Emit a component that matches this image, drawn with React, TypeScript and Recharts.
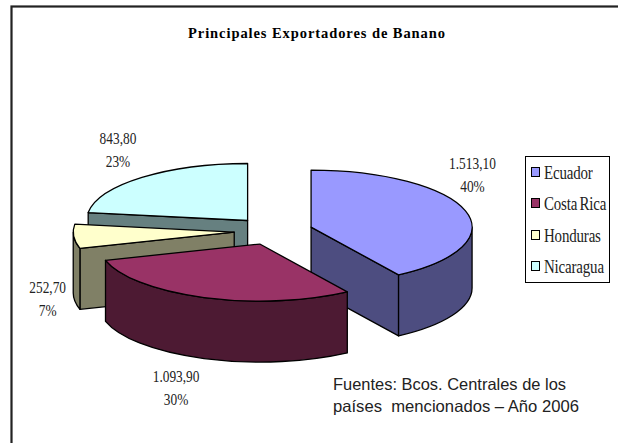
import React from "react";
import { PieChart, Pie, Legend } from "recharts";

const countries = ["Ecuador", "Costa Rica", "Honduras", "Nicaragua"];
const exports2006 = [1513.1, 1093.9, 252.7, 843.8];
const valueLabels = ["1.513,10", "1.093,90", "252,70", "843,80"];
const percentLabels = ["40%", "30%", "7%", "23%"];
const topColors = ["#9999FF", "#993366", "#FFFFCC", "#CCFFFF"];
const sideColors = ["#4D4D80", "#4D1A33", "#808066", "#668080"];
const paintOrder = ["Nicaragua", "Ecuador", "Honduras", "Costa Rica"];
const labelOffsets = [
  [7, -36],
  [-28, 90],
  [-26, 63],
  [-24, -27.5],
];
const sourceLines = ["Fuentes: Bcos. Centrales de los", "países  mencionados – Año 2006"];
const chartTitle = "Principales Exportadores de Banano";

const pieData = countries.map((name, i) => ({ name, value: exports2006[i] }));

const W = 618;
const H = 443;
const CX = 273.4;
const CY = 231;
const RX = 161;
const RY = 57;
const DEPTH = 61;
const EXPLODE = 0.244;
const EDGE = 1.3;

const rad = (a: number) => (a * Math.PI) / 180;
const pt = (cx: number, cy: number, a: number): [number, number] => [
  cx + RX * Math.cos(rad(a)),
  cy - RY * Math.sin(rad(a)),
];
const center = (midAngle: number): [number, number] => [
  CX + EXPLODE * RX * Math.cos(rad(midAngle)),
  CY - EXPLODE * RY * Math.sin(rad(midAngle)),
];

function Slice(props: any, only: string) {
  const { name, startAngle, endAngle } = props;
  if (name !== only) return <g />;
  const i = countries.indexOf(name);
  const mid = (startAngle + endAngle) / 2;
  const [cx, cy] = center(mid);
  const hi = Math.max(startAngle, endAngle);
  const lo = Math.min(startAngle, endAngle);
  const top = topColors[i];
  const side = sideColors[i];
  const s = pt(cx, cy, hi);
  const e = pt(cx, cy, lo);
  const large = hi - lo > 180 ? 1 : 0;
  const walls: React.ReactNode[] = [];
  const radial = (p: [number, number], key: string) => (
    <path
      key={key}
      d={`M${cx},${cy}L${p[0]},${p[1]}L${p[0]},${p[1] + DEPTH}L${cx},${cy + DEPTH}Z`}
      fill={side}
      stroke="#000"
      strokeWidth={EDGE}
      strokeLinejoin="round"
    />
  );
  if (Math.cos(rad(hi)) < -1e-6) walls.push(radial(s, "start"));
  if (Math.cos(rad(lo)) > 1e-6) walls.push(radial(e, "end"));
  const a1 = Math.min(hi, 0);
  const a2 = Math.max(lo, -180);
  if (a1 > a2) {
    const p1 = pt(cx, cy, a1);
    const p2 = pt(cx, cy, a2);
    walls.push(
      <path
        key="outer"
        d={`M${p1[0]},${p1[1]}A${RX},${RY} 0 0 1 ${p2[0]},${p2[1]}L${p2[0]},${p2[1] + DEPTH}A${RX},${RY} 0 0 0 ${p1[0]},${p1[1] + DEPTH}Z`}
        fill={side}
        stroke="#000"
        strokeWidth={EDGE}
        strokeLinejoin="round"
      />
    );
  }
  return (
    <g>
      {walls}
      <path
        d={`M${cx},${cy}L${s[0]},${s[1]}A${RX},${RY} 0 ${large} 1 ${e[0]},${e[1]}Z`}
        fill={top}
        stroke="#000"
        strokeWidth={EDGE}
        strokeLinejoin="round"
      />
    </g>
  );
}

function SliceLabel(props: any, only: string) {
  const { name, midAngle } = props;
  if (name !== only) return <g />;
  const i = countries.indexOf(name);
  const [cx, cy] = center(midAngle);
  const [ox, oy] = pt(cx, cy, midAngle);
  const x = ox + labelOffsets[i][0];
  const y = oy + labelOffsets[i][1];
  const style = { fontFamily: "'Liberation Serif', serif", fontSize: 16.5, fill: "#222" };
  const squeeze = `translate(${x},0) scale(0.81,1) translate(${-x},0)`;
  return (
    <g>
      <text x={x} y={y - 6} textAnchor="middle" style={style} transform={squeeze}>
        {valueLabels[i]}
      </text>
      <text x={x} y={y + 17} textAnchor="middle" style={style} transform={squeeze}>
        {percentLabels[i]}
      </text>
    </g>
  );
}

function LegendBox() {
  return (
    <div
      style={{
        width: 83,
        height: 124,
        border: "1px solid #000",
        background: "#fff",
        boxSizing: "content-box",
        paddingTop: 1,
      }}
    >
      {countries.map((name, i) => (
        <div key={name} style={{ position: "relative", height: 31.3 }}>
          <span
            style={{
              position: "absolute",
              left: 5,
              top: 9,
              width: 7,
              height: 8,
              border: "1.5px solid #000",
              background: topColors[i],
            }}
          />
          <span
            style={{
              position: "absolute",
              left: 18,
              top: 6,
              fontFamily: "'Liberation Serif', serif",
              fontSize: 18,
              lineHeight: "18px",
              wordSpacing: -1.5,
              letterSpacing: -0.2,
              color: "#222",
              whiteSpace: "nowrap",
              transform: "scaleX(0.83)",
              transformOrigin: "left center",
            }}
          >
            {name}
          </span>
        </div>
      ))}
    </div>
  );
}

export default function App() {
  return (
    <div style={{ position: "absolute", left: 0, top: 0, width: W, height: H, background: "#fff", overflow: "hidden" }}>
      <PieChart width={W} height={H} margin={{ top: 0, right: 0, bottom: 0, left: 0 }}>
        <rect x={11.5} y={6.5} width={640} height={480} fill="#fff" stroke="#222" strokeWidth={2.2} />
        <text
          x={316.5}
          y={38}
          textAnchor="middle"
          textLength={257}
          lengthAdjust="spacing"
          style={{ fontFamily: "'Liberation Serif', serif", fontSize: 14.5, fontWeight: 700, fill: "#000" }}
        >
          {chartTitle}
        </text>
        {paintOrder.map((only) => (
          <Pie
            key={only}
            data={pieData}
            dataKey="value"
            nameKey="name"
            cx={CX}
            cy={CY}
            innerRadius={0}
            outerRadius={RX}
            startAngle={90}
            endAngle={-270}
            isAnimationActive={false}
            labelLine={false}
            shape={(p: any) => Slice(p, only)}
            label={(p: any) => SliceLabel(p, only)}
          />
        ))}
        <Legend
          layout="vertical"
          wrapperStyle={{ position: "absolute", left: 525, top: 156, width: 85, height: 126, bottom: "auto", right: "auto" }}
          content={() => <LegendBox />}
        />
        {sourceLines.map((line, i) => (
          <text
            key={line}
            x={333}
            y={390 + i * 21.5}
            textLength={i === 0 ? 233 : 246}
            lengthAdjust="spacingAndGlyphs"
            style={{ fontFamily: "'Liberation Sans', sans-serif", fontSize: 16.5, fill: "#222", whiteSpace: "pre" }}
          >
            {line}
          </text>
        ))}
      </PieChart>
    </div>
  );
}
